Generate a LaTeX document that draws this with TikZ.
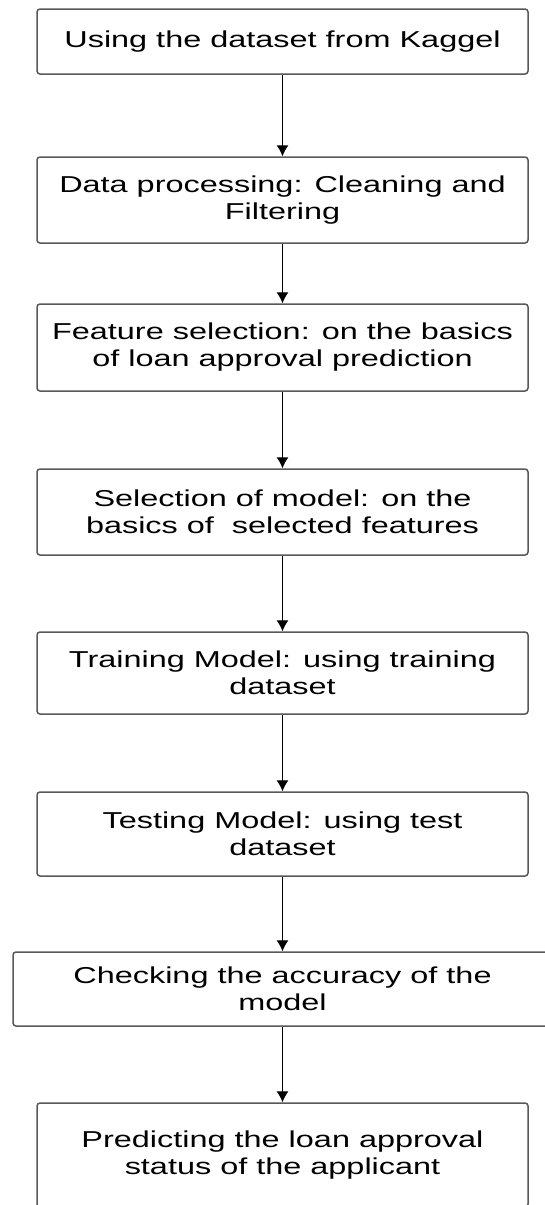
\documentclass[tikz,border=0pt]{standalone}
\usepackage{fontspec}
\setmainfont{Liberation Sans}[FakeStretch=1.41]
\usetikzlibrary{arrows.meta}
\begin{document}
\begin{tikzpicture}[x=0.5pt,y=-0.5pt,>={Latex[length=5.5pt,width=6pt]},
stage/.style={draw=black!65,fill=white,line width=0.75pt,rounded corners=1.5pt,
  minimum width=245.5pt,align=center,inner sep=0pt,
  font=\fontsize{11.5}{13.5}\selectfont}]
\clip (0,0) rectangle (545,1205);
\fill[white] (0,0) rectangle (545,1205);
\node[stage,minimum height=32.5pt] (kaggle) at (282.5,41.5) {Using the dataset from Kaggel};
\node[stage,minimum height=43pt] (clean) at (282.5,200) {Data processing: Cleaning and\\Filtering};
\node[stage,minimum height=43.5pt] (feat) at (282.5,347.5) {Feature selection: on the basics\\of loan approval prediction};
\node[stage,minimum height=43pt] (model) at (282.5,512) {Selection of model: on the\\basics of \ selected features};
\node[stage,minimum height=41pt] (train) at (282.5,673) {Training Model: using training\\dataset};
\node[stage,minimum height=42pt] (test) at (282.5,834) {Testing Model: using test\\dataset};
\node[stage,minimum height=37pt,minimum width=269.5pt] (acc) at (282.5,989) {Checking the accuracy of the\\model};
\node[stage,minimum height=52pt] (pred) at (282.5,1155) {Predicting the loan approval\\status of the applicant};
\draw[->,line width=0.5pt] (kaggle)--(clean);
\draw[->,line width=0.5pt] (clean)--(feat);
\draw[->,line width=0.5pt] (feat)--(model);
\draw[->,line width=0.5pt] (model)--(train);
\draw[->,line width=0.5pt] (train)--(test);
\draw[->,line width=0.5pt] (test)--(acc);
\draw[->,line width=0.5pt] (acc)--(pred);
\end{tikzpicture}
\end{document}
